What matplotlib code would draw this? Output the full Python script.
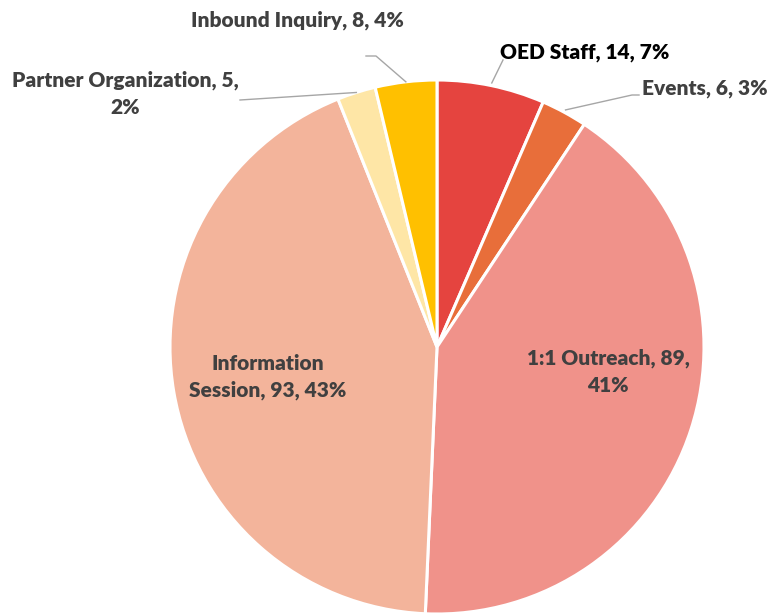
import matplotlib
matplotlib.use('Agg')
import matplotlib.pyplot as plt
import numpy as np

#------------------------------------------------------------------------------
# data
categories = ['OED Staff', 'Events', '1:1 Outreach', 'Information Session',
              'Partner Organization', 'Inbound Inquiry']
counts = [14, 6, 89, 93, 5, 8]
colors = ['#E5443F', '#E86E3A', '#F0928A', '#F3B49B', '#FEE6A6', '#FFC000']

# label text as it appears (line breaks like the original)
label_text = ['OED Staff, 14, 7%', 'Events, 6, 3%', '1:1 Outreach, 89,\n41%',
              'Information\nSession, 93, 43%', 'Partner Organization, 5,\n2%',
              'Inbound Inquiry, 8, 4%']
#------------------------------------------------------------------------------

plt.rcParams['font.family'] = ['Lato', 'DejaVu Sans']

W, H = 772, 613
fig = plt.figure(figsize=(W / 100, H / 100), dpi=100)
ax = fig.add_axes([0, 0, 1, 1])

cx, cy, R = 437, H - 347, 267
wedges, _ = ax.pie(counts, colors=colors, startangle=90, counterclock=False,
                   center=(cx, cy), radius=R, frame=True,
                   wedgeprops=dict(edgecolor='white', linewidth=2.2))
ax.set_xlim(0, W)
ax.set_ylim(0, H)
ax.set_aspect('equal')
ax.axis('off')

# label positions (pixels, y from top) and leader lines
label_pos = [(585, 52), (705, 89), (608, 372), (268, 377), (125, 94), (297, 20)]
text_col = ['black', '#404040', '#404040', '#404040', '#404040', '#404040']
for txt, (lx, ly), c in zip(label_text, label_pos, text_col):
    ax.text(lx, H - ly, txt, ha='center', va='center', fontsize=15,
            fontweight='heavy', color=c, linespacing=1.5)

leaders = {
    0: [(1.01, None), (503, 60)],
    1: [(1.01, None), (632, 95), (639, 95)],
    4: [(1.0, None), (240, 100)],
    5: [(1.0, None), (376, 56), (366, 56)],
}
for i, pts in leaders.items():
    w = wedges[i]
    mid = np.deg2rad((w.theta1 + w.theta2) / 2)
    r = R * pts[0][0]
    xs = [cx + r * np.cos(mid)]
    ys = [cy + r * np.sin(mid)]
    for (px, py) in pts[1:]:
        xs.append(px)
        ys.append(H - py)
    ax.plot(xs, ys, color='#A6A6A6', linewidth=1)

fig.savefig('out.png', dpi=100)
